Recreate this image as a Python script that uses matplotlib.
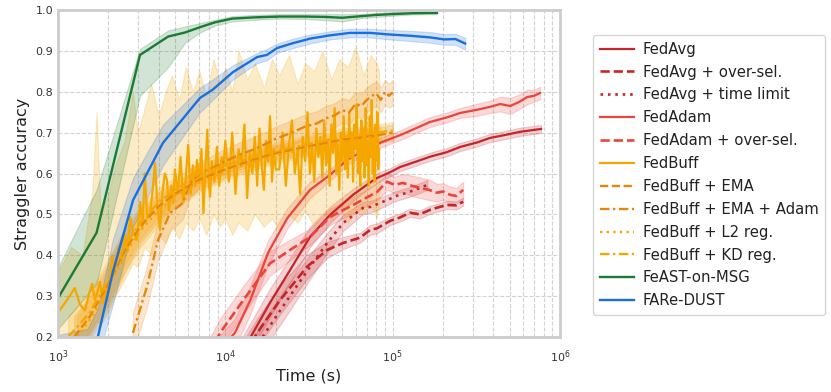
import matplotlib
matplotlib.use("Agg")
import matplotlib.pyplot as plt
import numpy as np
from matplotlib.ticker import LogLocator

# ---------------- data (times in thousands of seconds) ----------------
fedavg_t = [12, 14.4, 18.5, 24.4, 32.1, 42.3, 58, 73.3, 80.7, 96.4, 111, 140, 167, 210, 253, 320, 382, 480, 577, 680, 770]
fedavg_y = [0.15, 0.205, 0.284, 0.364, 0.445, 0.499, 0.548, 0.578, 0.589, 0.603, 0.616, 0.630, 0.641, 0.652, 0.665, 0.676, 0.687, 0.695, 0.702, 0.706, 0.709]
fedavg_b = [0.035, 0.035, 0.035, 0.03, 0.025, 0.02, 0.015, 0.012, 0.012, 0.01, 0.01, 0.01, 0.01, 0.01, 0.01, 0.01, 0.01, 0.01, 0.01, 0.01, 0.01]

fedavg_os_t = [13, 15.5, 21.2, 30.8, 40.6, 50.6, 63.8, 73.3, 80.7, 96.4, 110, 127, 145, 167, 190, 212, 240, 264]
fedavg_os_y = [0.16, 0.21, 0.29, 0.372, 0.413, 0.43, 0.443, 0.462, 0.466, 0.484, 0.492, 0.504, 0.500, 0.511, 0.518, 0.523, 0.522, 0.531]
fedavg_os_b = [0.035, 0.035, 0.035, 0.03, 0.02, 0.015, 0.012, 0.012, 0.012, 0.01, 0.01, 0.01, 0.01, 0.01, 0.01, 0.01, 0.01, 0.01]

fedavg_tl_t = [15, 17.3, 23.4, 32.1, 40.6, 50.6, 66.6, 73.3, 92.6, 105, 122, 140, 161]
fedavg_tl_y = [0.17, 0.21, 0.29, 0.372, 0.43, 0.479, 0.516, 0.518, 0.535, 0.545, 0.553, 0.562, 0.572]
fedavg_tl_b = [0.035, 0.035, 0.035, 0.03, 0.025, 0.02, 0.015, 0.015, 0.012, 0.012, 0.012, 0.012, 0.012]

fedadam_t = [9.3, 11.4, 14.1, 18.0, 23.4, 32.1, 42.3, 53.4, 73.3, 84, 111, 140, 167, 210, 253, 320, 382, 440, 503, 570, 636, 700, 760]
fedadam_y = [0.17, 0.21, 0.29, 0.406, 0.49, 0.56, 0.597, 0.633, 0.665, 0.675, 0.694, 0.712, 0.726, 0.737, 0.748, 0.756, 0.763, 0.770, 0.765, 0.775, 0.787, 0.790, 0.797]
fedadam_b = [0.035, 0.035, 0.035, 0.03, 0.025, 0.02, 0.015, 0.012, 0.012, 0.012, 0.012, 0.012, 0.012, 0.012, 0.012, 0.015, 0.015, 0.018, 0.02, 0.018, 0.018, 0.015, 0.015]

fedadam_os_t = [8.0, 9.3, 12.8, 18.5, 24.4, 32.1, 42.3, 58, 80.7, 92.6, 103, 115, 130, 146, 165, 184, 200, 220, 240, 264]
fedadam_os_y = [0.16, 0.21, 0.29, 0.38, 0.413, 0.445, 0.494, 0.523, 0.555, 0.58, 0.572, 0.577, 0.570, 0.565, 0.560, 0.553, 0.556, 0.548, 0.545, 0.56]
fedadam_os_b = [0.035, 0.035, 0.035, 0.03, 0.025, 0.02, 0.02, 0.02, 0.02, 0.02, 0.02, 0.022, 0.025, 0.025, 0.025, 0.022, 0.02, 0.02, 0.02, 0.02]

fedbuff_t = [1.0, 1.13, 1.26, 1.35, 1.45, 1.52, 1.6, 1.66, 1.72, 1.78, 1.86, 1.95, 2.03, 2.1, 2.19,
             2.3, 2.4, 2.5, 2.6, 2.7, 2.8, 2.96, 3.1, 3.2, 3.3, 3.42, 3.55, 3.68, 3.8, 3.93,
             4.07, 4.2, 4.35, 4.48, 4.6, 4.75, 4.87, 5.0, 5.2, 5.4, 5.6, 5.8, 6.0, 6.2, 6.4,
             6.6, 6.77, 7.0, 7.2, 7.4, 7.6, 7.8, 8.0, 8.1, 8.3, 8.6, 8.9, 9.2, 9.5, 9.7, 10.0,
             10.5, 11, 11.5, 12, 12.5, 13, 13.5, 14, 14.5, 15, 15.5, 16, 16.5, 17, 17.5, 18, 18.5, 19, 19.5, 20,
             21, 22, 23, 24, 25, 26, 27, 28, 29, 30, 31, 32, 33, 34, 35, 36, 37, 38, 39, 40,
             41, 42, 43, 44, 45, 46, 47, 48, 49, 50, 51, 52, 53, 54, 55, 56, 57, 58, 59, 60,
             61, 62, 63, 64, 65, 66, 67, 68, 69, 70, 71, 72, 73, 74, 75, 76, 77, 78, 79, 80, 81, 82, 83]
fedbuff_y = [0.26, 0.29, 0.32, 0.28, 0.265, 0.30, 0.33, 0.29, 0.31, 0.335, 0.283, 0.33, 0.31, 0.40, 0.364,
             0.42, 0.38, 0.45, 0.41, 0.494, 0.46, 0.438, 0.53, 0.47, 0.60, 0.49, 0.503, 0.56, 0.626, 0.52,
             0.462, 0.55, 0.60, 0.584, 0.51, 0.57, 0.528, 0.61, 0.55, 0.64, 0.53, 0.59, 0.67, 0.55, 0.62,
             0.57, 0.633, 0.58, 0.66, 0.503, 0.61, 0.707, 0.57, 0.543, 0.63, 0.58, 0.665, 0.57, 0.64, 0.609, 0.68,
             0.58, 0.70, 0.55, 0.66, 0.62, 0.72, 0.54, 0.65, 0.60, 0.69, 0.57, 0.71, 0.62, 0.56, 0.68, 0.63, 0.74, 0.58, 0.66, 0.61,
             0.61, 0.70, 0.57, 0.67, 0.73, 0.60, 0.66, 0.55, 0.69, 0.63, 0.75, 0.60, 0.67, 0.58, 0.71, 0.64, 0.69, 0.59, 0.73, 0.62,
             0.68, 0.57, 0.72, 0.65, 0.76, 0.60, 0.67, 0.56, 0.70, 0.63, 0.74, 0.61, 0.68, 0.59, 0.75, 0.64, 0.70, 0.58, 0.72, 0.66,
             0.77, 0.60, 0.69, 0.57, 0.73, 0.63, 0.71, 0.59, 0.76, 0.62, 0.68, 0.57, 0.74, 0.64, 0.78, 0.60, 0.70, 0.58, 0.72, 0.63, 0.75, 0.61, 0.66]

fedbuff_band_t = [1.0, 1.2, 1.4, 1.6, 1.7, 1.8, 2.0, 2.2, 2.5, 2.8, 3.0, 3.3, 3.6, 4.0, 4.4, 4.8, 5.3, 5.8, 6.4, 7.0, 7.7, 8.5,
                  9.3, 10, 11, 12, 13.5, 15, 17, 19, 21, 24, 27, 30, 34, 38, 43, 48, 54, 60, 67, 74, 80, 83]
fedbuff_upper = [0.36, 0.42, 0.40, 0.55, 0.75, 0.50, 0.55, 0.62, 0.68, 0.80, 0.70, 0.76, 0.82, 0.74, 0.80, 0.84, 0.78, 0.86, 0.80, 0.85, 0.79, 0.88,
                 0.82, 0.86, 0.80, 0.90, 0.83, 0.87, 0.81, 0.88, 0.84, 0.89, 0.82, 0.87, 0.85, 0.90, 0.83, 0.88, 0.86, 0.91, 0.84, 0.89, 0.87, 0.85]
fedbuff_lower = [0.18, 0.20, 0.19, 0.22, 0.24, 0.23, 0.26, 0.30, 0.34, 0.38, 0.37, 0.42, 0.40, 0.45, 0.43, 0.47, 0.44, 0.48, 0.46, 0.49, 0.45, 0.50,
                 0.47, 0.49, 0.45, 0.48, 0.46, 0.50, 0.47, 0.49, 0.46, 0.50, 0.48, 0.51, 0.47, 0.50, 0.49, 0.52, 0.48, 0.51, 0.50, 0.53, 0.49, 0.52]

ema_t = [1.25, 1.55, 2.0, 2.5, 3.1, 4.0, 5.0, 7.0, 10, 15, 20, 30, 40, 50, 60, 70, 85, 100]
ema_y = [0.20, 0.25, 0.33, 0.41, 0.47, 0.52, 0.55, 0.585, 0.61, 0.635, 0.65, 0.665, 0.675, 0.683, 0.686, 0.69, 0.695, 0.70]
ema_b = [0.05, 0.05, 0.05, 0.05, 0.04, 0.035, 0.03, 0.025, 0.02, 0.02, 0.02, 0.02, 0.02, 0.02, 0.02, 0.02, 0.02, 0.02]

ema_adam_t = [2.8, 3.4, 3.96, 4.67, 5.58, 6.16, 7.06, 8.5, 10, 12, 15, 18, 20, 25, 30, 35, 40, 45, 50, 55, 60, 65, 70, 75, 80, 85, 90, 95, 100]
ema_adam_y = [0.21, 0.323, 0.437, 0.503, 0.528, 0.577, 0.60, 0.615, 0.63, 0.645, 0.66, 0.675, 0.685, 0.70, 0.715, 0.722, 0.735, 0.742, 0.755, 0.750, 0.77, 0.765, 0.78, 0.79, 0.795, 0.78, 0.80, 0.79, 0.798]
ema_adam_b = [0.05, 0.05, 0.05, 0.045, 0.04, 0.035, 0.03, 0.03, 0.03, 0.03, 0.03, 0.03, 0.03, 0.03, 0.03, 0.03, 0.03, 0.03, 0.03, 0.03, 0.03, 0.03, 0.03, 0.03, 0.03, 0.03, 0.03, 0.03, 0.03]

l2_t = [1.3, 1.6, 2.0, 2.5, 3.1, 4.0, 5.0, 7.0, 10, 15, 20, 30, 40, 50, 60, 70, 85]
l2_y = [0.20, 0.25, 0.32, 0.40, 0.46, 0.51, 0.545, 0.58, 0.605, 0.63, 0.645, 0.66, 0.67, 0.678, 0.684, 0.688, 0.692]
l2_b = [0.05, 0.05, 0.05, 0.045, 0.04, 0.035, 0.03, 0.025, 0.02, 0.02, 0.02, 0.02, 0.02, 0.02, 0.02, 0.02, 0.02]

kd_t = [1.15, 1.55, 2.0, 2.5, 3.1, 4.0, 5.0, 7.0, 10, 15, 20, 30, 50, 80, 100]
kd_y = [0.20, 0.26, 0.34, 0.42, 0.48, 0.53, 0.56, 0.60, 0.62, 0.64, 0.655, 0.67, 0.69, 0.70, 0.705]
kd_b = [0.05, 0.05, 0.05, 0.045, 0.04, 0.035, 0.03, 0.025, 0.02, 0.02, 0.02, 0.02, 0.02, 0.02, 0.02]

feast_t = [1.0, 1.7, 3.09, 4.55, 5.75, 7.06, 8.7, 11, 15, 21, 30, 40, 50, 65, 80, 100, 130, 184]
feast_y = [0.295, 0.455, 0.89, 0.935, 0.945, 0.958, 0.97, 0.979, 0.982, 0.984, 0.984, 0.983, 0.981, 0.985, 0.988, 0.99, 0.992, 0.993]
feast_lo = [0.22, 0.33, 0.79, 0.86, 0.92, 0.945, 0.962, 0.972, 0.976, 0.979, 0.978, 0.975, 0.972, 0.98, 0.983, 0.986, 0.989, 0.99]
feast_hi = [0.37, 0.56, 0.905, 0.95, 0.96, 0.968, 0.976, 0.985, 0.988, 0.99, 0.99, 0.99, 0.99, 0.99, 0.993, 0.995, 0.996, 0.997]

fare_t = [1.0, 1.5, 1.73, 2.13, 2.81, 4.24, 7.06, 8.4, 11.1, 15.5, 17.7, 20.4, 25.4, 32.1, 42.3, 55.5, 73.3, 96.4, 127, 167, 204, 237, 271]
fare_y = [0.10, 0.17, 0.20, 0.36, 0.535, 0.675, 0.785, 0.805, 0.848, 0.885, 0.89, 0.907, 0.919, 0.93, 0.938, 0.944, 0.944, 0.94, 0.937, 0.933, 0.928, 0.929, 0.918]
fare_lo = [0.05, 0.12, 0.15, 0.28, 0.47, 0.62, 0.75, 0.78, 0.83, 0.87, 0.877, 0.895, 0.907, 0.918, 0.928, 0.933, 0.933, 0.928, 0.924, 0.92, 0.915, 0.915, 0.903]
fare_hi = [0.205, 0.22, 0.27, 0.44, 0.59, 0.72, 0.81, 0.83, 0.865, 0.895, 0.905, 0.918, 0.93, 0.94, 0.948, 0.954, 0.954, 0.951, 0.949, 0.946, 0.941, 0.942, 0.932]

# ---------------- colors ----------------
C_AVG = "#c5252a"
C_ADAM = "#e8453c"
C_BUFF = "#f5a700"
C_EMA = "#e8860c"
C_GREEN = "#1b7a34"
C_BLUE = "#1a6fe0"

fig = plt.figure(figsize=(8.31, 3.92), dpi=100)
ax = fig.add_axes([58 / 831, 1 - 337 / 392, 502 / 831, 327 / 392])


def sec(t):
    return np.array(t) * 1000.0


def band_line(t, y, b, color, ls, label, lw=1.6, alpha=0.2):
    tt = sec(t)
    yy = np.array(y)
    bb = np.array(b)
    ax.fill_between(tt, yy - bb, yy + bb, color=color, alpha=alpha, lw=0.8)
    ax.plot(tt, yy, color=color, ls=ls, lw=lw, label=label)


band_line(fedavg_t, fedavg_y, fedavg_b, C_AVG, "-", "FedAvg")
band_line(fedavg_os_t, fedavg_os_y, fedavg_os_b, C_AVG, (0, (3.5, 1.5)), "FedAvg + over-sel.", lw=1.9)
band_line(fedavg_tl_t, fedavg_tl_y, fedavg_tl_b, C_AVG, (0, (1, 1.8)), "FedAvg + time limit", lw=1.9)
band_line(fedadam_t, fedadam_y, fedadam_b, C_ADAM, "-", "FedAdam")
band_line(fedadam_os_t, fedadam_os_y, fedadam_os_b, C_ADAM, (0, (3.5, 1.5)), "FedAdam + over-sel.", lw=1.9)

ax.fill_between(sec(fedbuff_band_t), fedbuff_lower, fedbuff_upper, color=C_BUFF, alpha=0.22, lw=0.8)
ax.plot(sec(fedbuff_t), fedbuff_y, color=C_BUFF, lw=1.6, label="FedBuff")
band_line(ema_t, ema_y, ema_b, C_EMA, (0, (3.5, 1.5)), "FedBuff + EMA", lw=1.7)
band_line(ema_adam_t, ema_adam_y, ema_adam_b, C_EMA, (0, (4, 1.5, 1, 1.5)), "FedBuff + EMA + Adam", lw=1.7)
band_line(l2_t, l2_y, l2_b, C_BUFF, (0, (1, 1.8)), "FedBuff + L2 reg.", lw=1.7)
band_line(kd_t, kd_y, kd_b, C_BUFF, (0, (4, 1.5, 1, 1.5)), "FedBuff + KD reg.", lw=1.7)

ax.fill_between(sec(feast_t), feast_lo, feast_hi, color=C_GREEN, alpha=0.2, lw=0.8)
ax.plot(sec(feast_t), feast_y, color=C_GREEN, lw=1.7, label="FeAST-on-MSG")
ax.fill_between(sec(fare_t), fare_lo, fare_hi, color=C_BLUE, alpha=0.2, lw=0.8)
ax.plot(sec(fare_t), fare_y, color=C_BLUE, lw=1.7, label="FARe-DUST")

ax.set_xscale("log")
ax.set_xlim(1e3, 1e6)
ax.set_ylim(0.2, 1.0)
ax.set_yticks([0.2, 0.3, 0.4, 0.5, 0.6, 0.7, 0.8, 0.9, 1.0])
ax.xaxis.set_major_locator(LogLocator(base=10, numticks=10))
ax.xaxis.set_minor_locator(LogLocator(base=10, subs=np.arange(2, 10), numticks=20))
ax.grid(True, which="major", ls="--", color="#d2d2d2", lw=0.8)
ax.grid(True, which="minor", axis="x", ls="--", color="#d2d2d2", lw=0.8)
ax.set_axisbelow(True)
ax.tick_params(axis="both", which="both", length=0, labelsize=8, colors="#333333")
ax.tick_params(axis="x", which="major", pad=8)
for s in ax.spines.values():
    s.set_color("#cccccc")
    s.set_linewidth(2)

ax.set_xlabel("Time (s)", fontsize=11.5, color="#222222", labelpad=3)
ax.set_ylabel("Straggler accuracy", fontsize=11.5, color="#222222")

leg = ax.legend(loc="upper left", bbox_to_anchor=(1.066, 0.9235), fontsize=10.7, handlelength=2.3,
                frameon=True, fancybox=True, borderpad=0.45, labelspacing=0.53, handletextpad=0.6,
                borderaxespad=0)
leg.get_frame().set_edgecolor("#cccccc")
leg.get_frame().set_linewidth(1.0)
for txt in leg.get_texts():
    txt.set_color("#222222")

fig.savefig("out.png", dpi=100)
